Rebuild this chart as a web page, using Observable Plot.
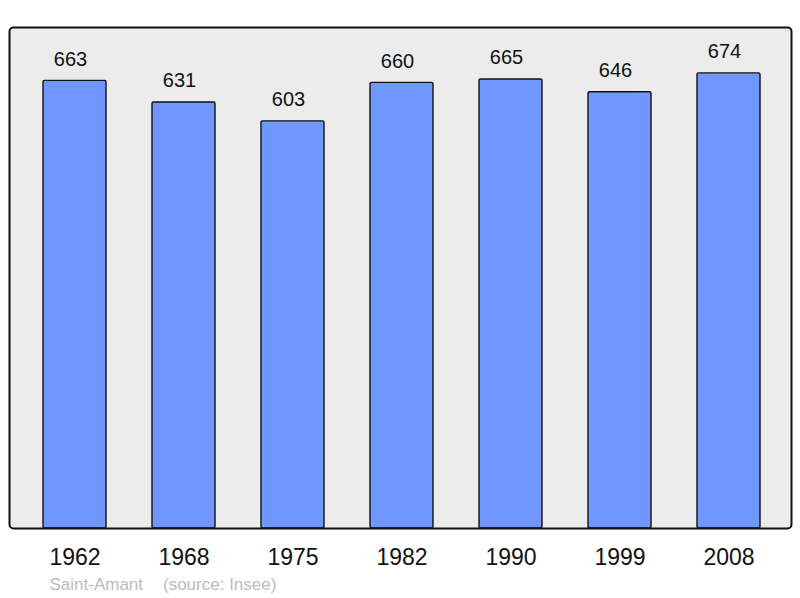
<!DOCTYPE html>
<html>
<head>
<meta charset="utf-8">
<script src="https://cdn.jsdelivr.net/npm/d3@7"></script>
<script src="https://cdn.jsdelivr.net/npm/@observablehq/plot@0.6"></script>
<style>
  html, body { margin: 0; padding: 0; background: #fff; }
  #chart svg { display: block; }
</style>
</head>
<body>
<div id="chart"></div>
<script>
const years = ["1962", "1968", "1975", "1982", "1990", "1999", "2008"];
const population = [663, 631, 603, 660, 665, 646, 674];
const commune = "Saint-Amant";
const source = "(source: Insee)";

const data = years.map((y, i) => ({year: y, pop: population[i]}));

const chart = Plot.plot({
  width: 800,
  height: 598,
  marginLeft: 9,
  marginRight: 9,
  marginTop: 27,
  marginBottom: 70,
  style: {fontFamily: "'Liberation Sans', Arial, sans-serif", background: "#fff"},
  x: {domain: years, range: [41.7, 760.9], paddingInner: 0.424, paddingOuter: 0, label: null},
  y: {domain: [0, 742], axis: null},
  marks: [
    Plot.frame({fill: "#ececec", stroke: "none", rx: 4}),
    Plot.barY(data, {x: "year", y: "pop", fill: "#7097ff", stroke: "#111", strokeWidth: 1.4, rx: 1.5}),
    Plot.frame({stroke: "#111", strokeWidth: 2, rx: 4}),
    Plot.text(data, {x: "year", y: "pop", text: d => String(d.pop), dx: -4.5, dy: -21.5, fontSize: 20, fill: "#111"}),
    Plot.axisX({tickSize: 0, tickPadding: 20, fontSize: 23, label: null, color: "#111"}),
    Plot.text([commune], {frameAnchor: "bottom-left", dx: 40, dy: 61, textAnchor: "start", fontSize: 17, fill: "#bbb"}),
    Plot.text([source], {frameAnchor: "bottom-left", dx: 153.5, dy: 61, textAnchor: "start", fontSize: 17, fill: "#bbb"})
  ]
});
document.getElementById("chart").appendChild(chart);
</script>
</body>
</html>
